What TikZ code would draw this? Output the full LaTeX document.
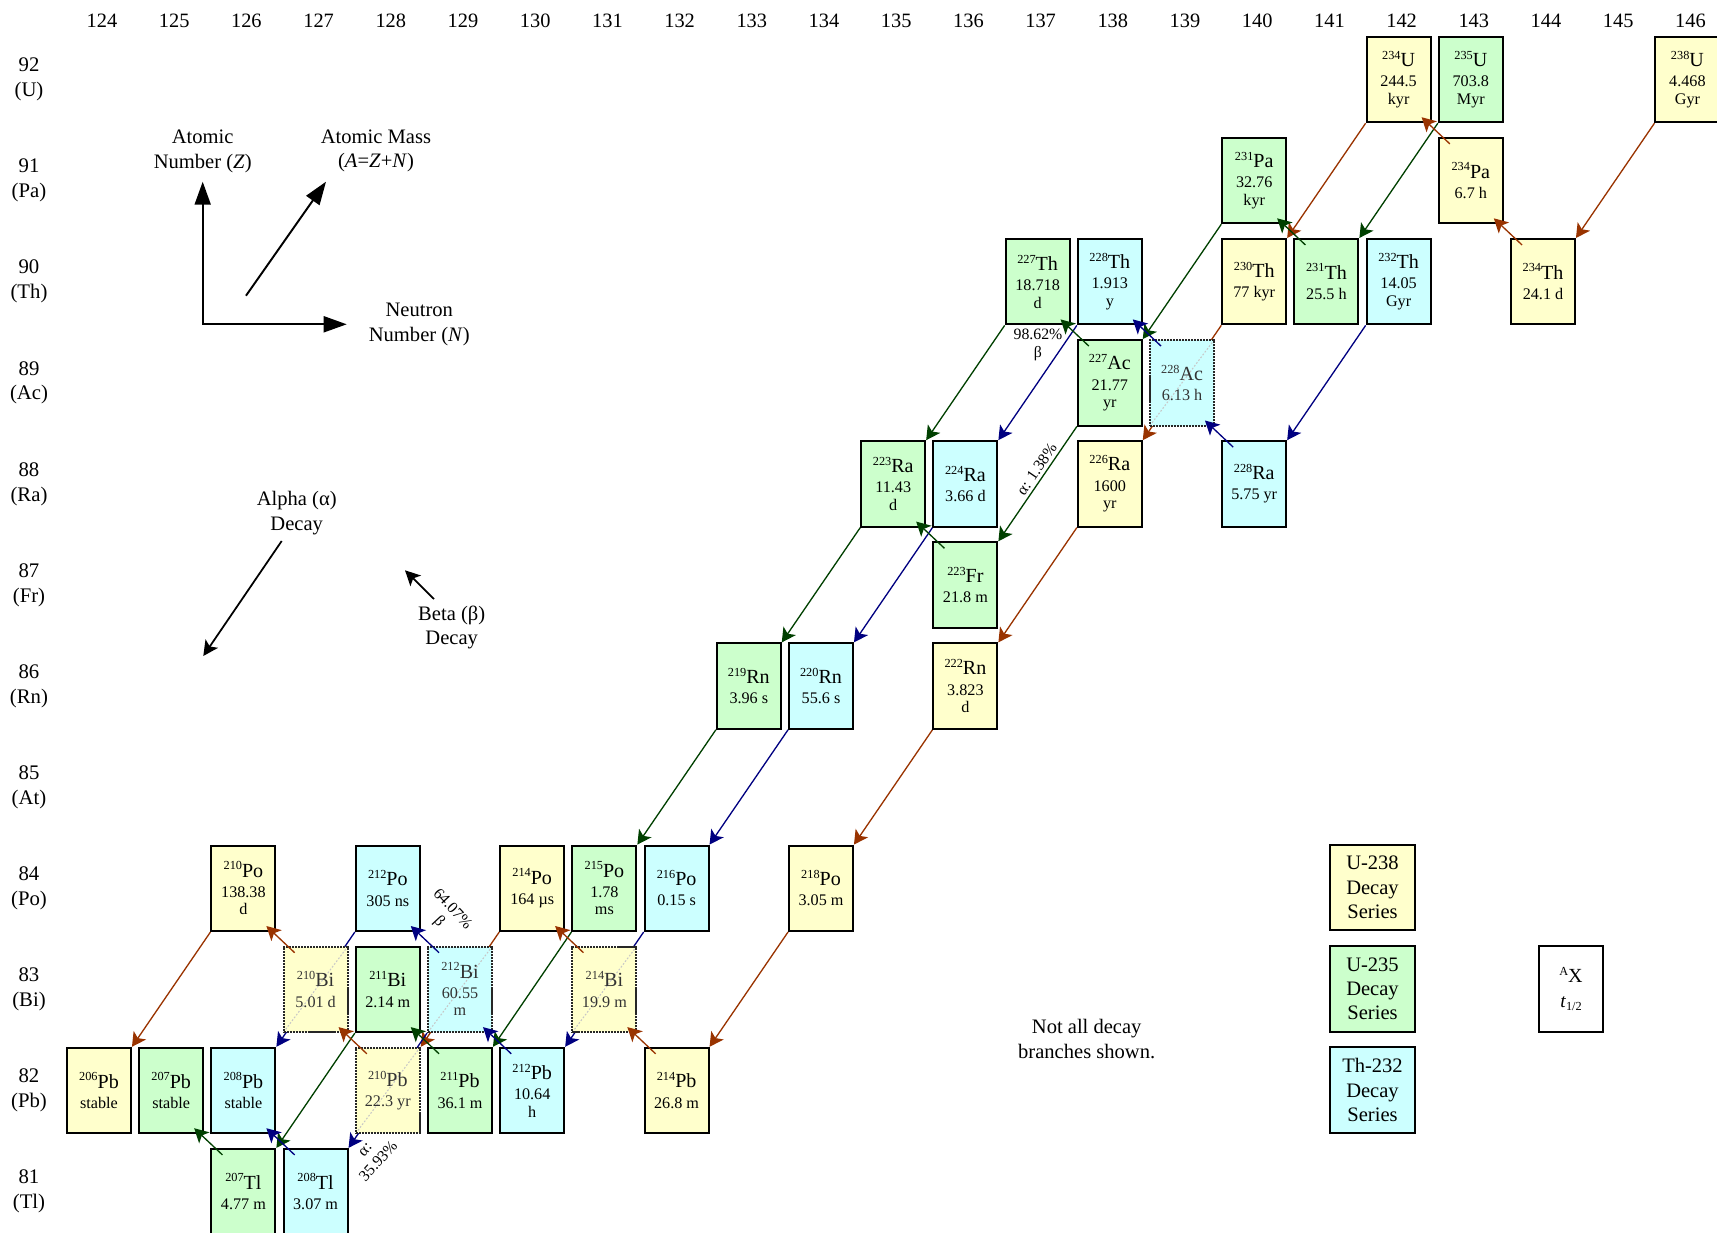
\documentclass[tikz,border=0pt]{standalone}
\usepackage{fontspec}
\setmainfont{Liberation Serif}
\usetikzlibrary{arrows.meta,calc,backgrounds}
\definecolor{cY}{RGB}{255,255,204}
\definecolor{cG}{RGB}{204,255,204}
\definecolor{cC}{RGB}{204,255,255}
\definecolor{aBr}{RGB}{153,51,0}
\definecolor{aGr}{RGB}{0,64,0}
\definecolor{aBl}{RGB}{0,0,128}
\newcommand\isosym[2]{{\fontsize{11.4}{12}\selectfont\raisebox{4.1pt}{\fontsize{7}{7}\selectfont #1}#2}}
\newcommand\nuc[7]{\node[#2] (#1) at ({99+(#3-124)*72.2},{79.5+(92-#4)*101.1}) {\isosym{#5}{#6}\\[1.5pt]#7};}
\newcommand\alparr[3]{\draw[arr,#1] (#2.south west) -- (#3.north east);}
\newcommand\betarr[3]{\draw[arr,#1] ($(#2.north west)+(12,7)$) -- ($(#3.south east)+(-10,-6)$);}
\tikzset{
  nbox/.style={draw=black, line width=1.1pt, minimum width=1.28cm, minimum height=1.71cm, inner sep=0pt, align=center, font=\fontsize{9.2}{10}\selectfont},
  ybox/.style={nbox, fill=cY},
  gbox/.style={nbox, fill=cG},
  cbox/.style={nbox, fill=cC},
  brbox/.style={dash pattern=on 1.2pt off 0.5pt, draw=black!85, text=black!80,
    path picture={\draw[black!22, line width=0.6pt, dash pattern=on 1pt off 1pt] (path picture bounding box.south west) -- (path picture bounding box.north east);}},
  arr/.style={line width=0.75pt, -{Stealth[length=0.28cm, width=0.3cm, inset=0.07cm]}},
  lab/.style={align=center, inner sep=0pt, font=\fontsize{11.7}{13.8}\selectfont},
  brlab/.style={align=center, inner sep=0pt, font=\fontsize{9}{10.4}\selectfont},
  lgbox/.style={nbox, minimum width=1.71cm, minimum height=1.71cm, font=\fontsize{11.7}{13.8}\selectfont},
  lgarr/.style={line width=1pt, -{Stealth[length=0.3cm, width=0.3cm, inset=0.07cm]}},
  axarr/.style={line width=1.1pt, {Triangle[length=0.46cm, width=0.32cm]}-{Triangle[length=0.46cm, width=0.32cm]}},
  diagarr/.style={line width=1.1pt, -{Triangle[length=0.46cm, width=0.32cm]}}
}
\begin{document}
\begin{tikzpicture}[x=0.02cm, y=-0.02cm]
\useasboundingbox (0,0) rectangle (1717,1233);
% column labels
\foreach \cc in {124,...,146}
  \node[lab, font=\fontsize{11.6}{13}\selectfont] (col\cc) at ({102+(\cc-124)*72.2},21) {\cc};
% row labels
\foreach \zz/\ss in {92/U,91/Pa,90/Th,89/Ac,88/Ra,87/Fr,86/Rn,85/At,84/Po,83/Bi,82/Pb,81/Tl}
  \node[lab, font=\fontsize{11.8}{14.2}\selectfont] (row\zz) at (29,{79.5+(92-\zz)*101.1}) {\zz\\(\ss)};
% U-238 series
\nuc{U238}{ybox}{146}{92}{238}{U}{4.468\\Gyr}
\nuc{Th234}{ybox}{144}{90}{234}{Th}{24.1 d}
\nuc{Pa234}{ybox}{143}{91}{234}{Pa}{6.7 h}
\nuc{U234}{ybox}{142}{92}{234}{U}{244.5\\kyr}
\nuc{Th230}{ybox}{140}{90}{230}{Th}{77 kyr}
\nuc{Ra226}{ybox}{138}{88}{226}{Ra}{1600\\yr}
\nuc{Rn222}{ybox}{136}{86}{222}{Rn}{3.823\\d}
\nuc{Po218}{ybox}{134}{84}{218}{Po}{3.05 m}
\nuc{Pb214}{ybox}{132}{82}{214}{Pb}{26.8 m}
\nuc{Bi214}{ybox,brbox}{131}{83}{214}{Bi}{19.9 m}
\nuc{Po214}{ybox}{130}{84}{214}{Po}{164 µs}
\nuc{Pb210}{ybox,brbox}{128}{82}{210}{Pb}{22.3 yr}
\nuc{Bi210}{ybox,brbox}{127}{83}{210}{Bi}{5.01 d}
\nuc{Po210}{ybox}{126}{84}{210}{Po}{138.38\\d}
\nuc{Pb206}{ybox}{124}{82}{206}{Pb}{stable}
% U-235 series
\nuc{U235}{gbox}{143}{92}{235}{U}{703.8\\Myr}
\nuc{Th231}{gbox}{141}{90}{231}{Th}{25.5 h}
\nuc{Pa231}{gbox}{140}{91}{231}{Pa}{32.76\\kyr}
\nuc{Ac227}{gbox}{138}{89}{227}{Ac}{21.77\\yr}
\nuc{Th227}{gbox}{137}{90}{227}{Th}{18.718\\d}
\nuc{Fr223}{gbox}{136}{87}{223}{Fr}{21.8 m}
\nuc{Ra223}{gbox}{135}{88}{223}{Ra}{11.43\\d}
\nuc{Rn219}{gbox}{133}{86}{219}{Rn}{3.96 s}
\nuc{Po215}{gbox}{131}{84}{215}{Po}{1.78\\ms}
\nuc{Pb211}{gbox}{129}{82}{211}{Pb}{36.1 m}
\nuc{Bi211}{gbox}{128}{83}{211}{Bi}{2.14 m}
\nuc{Tl207}{gbox}{126}{81}{207}{Tl}{4.77 m}
\nuc{Pb207}{gbox}{125}{82}{207}{Pb}{stable}
% Th-232 series
\nuc{Th232}{cbox}{142}{90}{232}{Th}{14.05\\Gyr}
\nuc{Ra228}{cbox}{140}{88}{228}{Ra}{5.75 yr}
\nuc{Ac228}{cbox,brbox}{139}{89}{228}{Ac}{6.13 h}
\nuc{Th228}{cbox}{138}{90}{228}{Th}{1.913\\y}
\nuc{Ra224}{cbox}{136}{88}{224}{Ra}{3.66 d}
\nuc{Rn220}{cbox}{134}{86}{220}{Rn}{55.6 s}
\nuc{Po216}{cbox}{132}{84}{216}{Po}{0.15 s}
\nuc{Pb212}{cbox}{130}{82}{212}{Pb}{10.64\\h}
\nuc{Bi212}{cbox,brbox}{129}{83}{212}{Bi}{60.55\\m}
\nuc{Po212}{cbox}{128}{84}{212}{Po}{305 ns}
\nuc{Tl208}{cbox}{127}{81}{208}{Tl}{3.07 m}
\nuc{Pb208}{cbox}{126}{82}{208}{Pb}{stable}
% alpha decays (behind the boxes)
\begin{scope}[on background layer]
\alparr{aBr}{U238}{Th234}
\alparr{aBr}{U234}{Th230}
\alparr{aBr}{Th230}{Ra226}
\alparr{aBr}{Ra226}{Rn222}
\alparr{aBr}{Rn222}{Po218}
\alparr{aBr}{Po218}{Pb214}
\alparr{aBr}{Po214}{Pb210}
\alparr{aBr}{Po210}{Pb206}
\alparr{aGr}{U235}{Th231}
\alparr{aGr}{Pa231}{Ac227}
\alparr{aGr}{Th227}{Ra223}
\alparr{aGr}{Ac227}{Fr223}
\alparr{aGr}{Ra223}{Rn219}
\alparr{aGr}{Rn219}{Po215}
\alparr{aGr}{Po215}{Pb211}
\alparr{aGr}{Bi211}{Tl207}
\alparr{aBl}{Th232}{Ra228}
\alparr{aBl}{Th228}{Ra224}
\alparr{aBl}{Ra224}{Rn220}
\alparr{aBl}{Rn220}{Po216}
\alparr{aBl}{Po216}{Pb212}
\alparr{aBl}{Po212}{Pb208}
\alparr{aBl}{Bi212}{Tl208}
\end{scope}
% beta decays
\betarr{aBr}{Th234}{Pa234}
\betarr{aBr}{Pa234}{U234}
\betarr{aBr}{Pb214}{Bi214}
\betarr{aBr}{Bi214}{Po214}
\betarr{aBr}{Pb210}{Bi210}
\betarr{aBr}{Bi210}{Po210}
\betarr{aGr}{Th231}{Pa231}
\betarr{aGr}{Ac227}{Th227}
\betarr{aGr}{Fr223}{Ra223}
\betarr{aGr}{Pb211}{Bi211}
\betarr{aGr}{Tl207}{Pb207}
\betarr{aBl}{Ra228}{Ac228}
\betarr{aBl}{Ac228}{Th228}
\betarr{aBl}{Pb212}{Bi212}
\betarr{aBl}{Bi212}{Po212}
\betarr{aBl}{Tl208}{Pb208}
% branch labels
\node[brlab] (b1) at (1038,345) {98.62\%\\β};
\node[brlab, rotate=55.6] (b2) at (1036.7,469.3) {α: 1.38\%};
\node[brlab, rotate=-47] (b3) at (445.3,915.7) {64.07\%\\β};
\node[brlab, rotate=48] (b4) at (372.5,1156) {α:\\35.93\%};
% axes legend
\coordinate (axO) at (202.7,324.3);
\coordinate (axZ) at (202.7,181.7);
\coordinate (axN) at (346.7,324.3);
\coordinate (axAs) at (246,295.7);
\coordinate (axAe) at (326,181.7);
\draw[axarr] (axZ) -- (axO) -- (axN);
\draw[diagarr] (axAs) -- (axAe);
\node[lab] (tZ) at (202.7,151.3) {Atomic\\Number (\textit{Z})};
\node[lab] (tA) at (376,151) {Atomic Mass\\(\textit{A}=\textit{Z}+\textit{N})};
\node[lab] (tN) at (419.3,324.5) {Neutron\\Number (\textit{N})};
\node[lab] (tal) at (296.7,513) {Alpha (α)\\Decay};
\coordinate (alS) at (281.7,541);
\coordinate (alE) at (203.3,656);
\draw[lgarr] (alS) -- (alE);
\node[lab] (tbe) at (451.7,627.5) {Beta (β)\\Decay};
\coordinate (beS) at (434,599);
\coordinate (beE) at (405,570.3);
\draw[lgarr] (beS) -- (beE);
\node[lab] (note) at (1086.7,1039) {Not all decay\\branches shown.};
% series legend and key
\node[lgbox, fill=cY] (lg1) at (1372.5,887.5) {U-238\\Decay\\Series};
\node[lgbox, fill=cG] (lg2) at (1372.5,989) {U-235\\Decay\\Series};
\node[lgbox, fill=cC] (lg3) at (1372.5,1090) {Th-232\\Decay\\Series};
\node[nbox, fill=white] (key) at (1571,989) {\isosym{A}{X}\\[4pt]{\fontsize{11}{12}\selectfont\textit{t}}\raisebox{-2pt}{\fontsize{7}{7}\selectfont 1/2}};
\end{tikzpicture}
\end{document}
